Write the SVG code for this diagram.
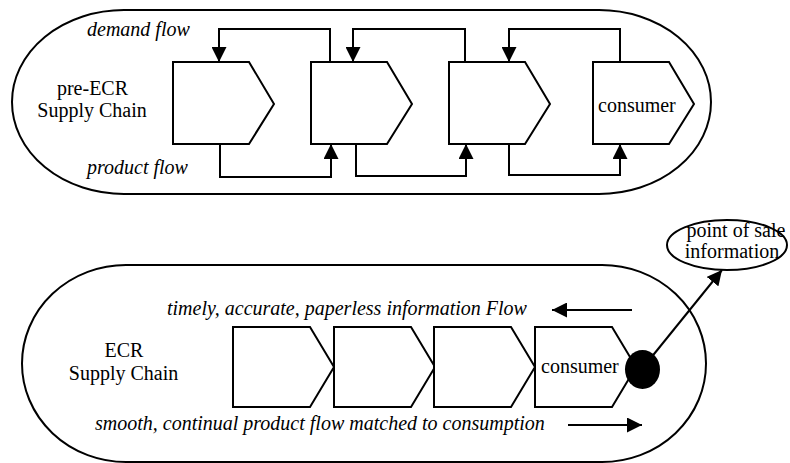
<svg xmlns="http://www.w3.org/2000/svg" width="790" height="463" viewBox="0 0 790 463">
  <style>
    .frame { fill: #fff; stroke: #000; stroke-width: 2; }
    .stage { fill: #fff; stroke: #000; stroke-width: 2; stroke-linejoin: miter; }
    .link { fill: none; stroke: #000; stroke-width: 2; }
    .it { font-style: italic; }
    .mid { text-anchor: middle; }
  </style>
  <defs>
    <marker id="arrow" viewBox="0 0 15 15" refX="15" refY="7.5" markerWidth="15" markerHeight="15" markerUnits="userSpaceOnUse" orient="auto">
      <path d="M0,0 L15,7.5 L0,15 Z" fill="#000"/>
    </marker>
    <!-- one chain stage: box with a pointed right end -->
    <path id="stageShape" d="M0,0 H76 L101,42 L76,82 H0 Z"/>
    <path id="stageShapeLow" d="M0,0 H77 L101,40 L77,80 H0 Z"/>
  </defs>

  <rect width="790" height="463" fill="#fff"/>

  <!-- pre-ECR supply chain -->
  <g id="pre-ecr-frame">
    <rect class="frame" x="12" y="10" width="699" height="184" rx="112" ry="92"/>
    <text class="mid" font-family="Liberation Serif" font-size="20" x="92.5" y="95">pre-ECR</text>
    <text class="mid" font-family="Liberation Serif" font-size="20" x="92" y="117">Supply Chain</text>
    <text class="it" font-family="Liberation Serif" font-size="20" x="87" y="36">demand flow</text>
    <text class="it" font-family="Liberation Serif" font-size="20" x="87" y="174">product flow</text>
  </g>

  <g id="pre-stage-1"><use href="#stageShape" class="stage" x="173" y="62"/></g>
  <g id="pre-stage-2"><use href="#stageShape" class="stage" x="311" y="62"/></g>
  <g id="pre-stage-3"><use href="#stageShape" class="stage" x="449" y="62"/></g>
  <g id="pre-consumer">
    <use href="#stageShape" class="stage" x="593" y="62"/>
    <text font-family="Liberation Serif" font-size="20" x="598" y="112">consumer</text>
  </g>

  <g id="pre-connectors">
    <!-- demand flow, running back up the chain -->
    <path class="link" d="M330,62 V29 H219 V62" marker-end="url(#arrow)"/>
    <path class="link" d="M465,62 V29 H353 V62" marker-end="url(#arrow)"/>
    <path class="link" d="M620,62 V29 H509 V62" marker-end="url(#arrow)"/>
    <!-- product flow, running down the chain -->
    <path class="link" d="M220,144 V177 H331 V144" marker-end="url(#arrow)"/>
    <path class="link" d="M356,144 V176 H466 V144" marker-end="url(#arrow)"/>
    <path class="link" d="M509,144 V175 H620 V144" marker-end="url(#arrow)"/>
  </g>

  <!-- ECR supply chain -->
  <g id="ecr-frame">
    <rect class="frame" x="22" y="265" width="684" height="197" rx="104" ry="98.5"/>
    <text class="mid" font-family="Liberation Serif" font-size="20" x="124" y="357">ECR</text>
    <text class="mid" font-family="Liberation Serif" font-size="20" x="123.5" y="380">Supply Chain</text>
    <text class="it" font-family="Liberation Serif" font-size="20" x="167" y="315">timely, accurate, paperless information Flow</text>
    <text class="it" font-family="Liberation Serif" font-size="20" x="95" y="430">smooth, continual product flow matched to consumption</text>
  </g>

  <g id="ecr-stage-1"><use href="#stageShapeLow" class="stage" x="233" y="327"/></g>
  <g id="ecr-stage-2"><use href="#stageShapeLow" class="stage" x="334" y="327"/></g>
  <g id="ecr-stage-3"><use href="#stageShapeLow" class="stage" x="434" y="327"/></g>
  <g id="ecr-consumer">
    <use href="#stageShapeLow" class="stage" x="535" y="327"/>
    <text font-family="Liberation Serif" font-size="20" x="541" y="373">consumer</text>
  </g>

  <g id="point-of-sale-dot">
    <ellipse cx="642.5" cy="369.5" rx="17.5" ry="19.5" fill="#000"/>
  </g>

  <g id="point-of-sale-info">
    <ellipse cx="727" cy="245" rx="60" ry="25" fill="#fff" stroke="#000" stroke-width="2"/>
    <text class="mid" font-family="Liberation Serif" font-size="20" x="736" y="237">point of sale</text>
    <text class="mid" font-family="Liberation Serif" font-size="20" x="732" y="258">information</text>
  </g>

  <g id="ecr-connectors">
    <path class="link" d="M632,310 H552" marker-end="url(#arrow)"/>
    <path class="link" d="M568,425 H642" marker-end="url(#arrow)"/>
    <path class="link" d="M650,359 L722,270" marker-end="url(#arrow)"/>
  </g>
</svg>
